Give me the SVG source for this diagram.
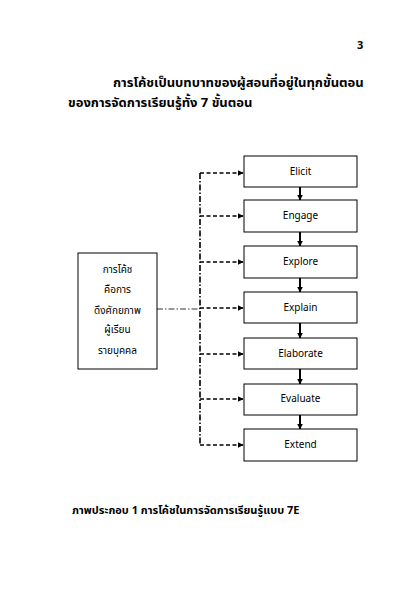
<svg xmlns="http://www.w3.org/2000/svg" width="420" height="595" viewBox="0 0 420 595">
<defs>
<style>
.t{font-family:"Noto Sans Thai","Loma","Garuda","Norasi","DejaVu Sans",sans-serif;fill:#000}
.h{font-size:13px;font-weight:bold}
.b{font-size:10px}
.box{fill:#fff;stroke:#000;stroke-width:1}
.sol{stroke:#000;stroke-width:2;fill:none}
.dash{stroke:#000;stroke-width:1.6;stroke-dasharray:4 2.5;fill:none}
.dd{stroke:#000;stroke-width:1.6;stroke-dasharray:6 2 1.5 2;fill:none}
.dd1{stroke:#000;stroke-width:0.8;stroke-dasharray:6 2 1.5 2;fill:none}
</style>
<marker id="ah" viewBox="0 0 10 10" refX="9" refY="5" markerWidth="3.5" markerHeight="3.5" orient="auto" markerUnits="strokeWidth"><path d="M0,0 L10,5 L0,10 z" fill="#000"/></marker>
<marker id="av" viewBox="0 0 10 10" refX="9" refY="5" markerWidth="3" markerHeight="3" orient="auto" markerUnits="strokeWidth"><path d="M0,0 L10,5 L0,10 z" fill="#000"/></marker>
</defs>
<rect width="420" height="595" fill="#fff"/>
<text class="t h" x="357" y="49" style="font-size:11px">3</text>
<text class="t h" x="113" y="87">การโค้ชเป็นบทบาทของผู้สอนที่อยู่ในทุกขั้นตอน</text>
<text class="t h" x="68" y="107">ของการจัดการเรียนรู้ทั้ง 7 ขั้นตอน</text>
<g id="connectors">
<line class="dd1" x1="157" y1="309" x2="200" y2="309"/>
<line class="dd" x1="200" y1="173" x2="200" y2="445"/>
<line class="dash" x1="200" y1="173" x2="243" y2="173" marker-end="url(#ah)"/>
<line class="dash" x1="200" y1="216" x2="243" y2="216" marker-end="url(#ah)"/>
<line class="dash" x1="200" y1="262" x2="243" y2="262" marker-end="url(#ah)"/>
<line class="dash" x1="200" y1="308" x2="243" y2="308" marker-end="url(#ah)"/>
<line class="dash" x1="200" y1="354" x2="243" y2="354" marker-end="url(#ah)"/>
<line class="dash" x1="200" y1="399" x2="243" y2="399" marker-end="url(#ah)"/>
<line class="dash" x1="200" y1="445" x2="243" y2="445" marker-end="url(#ah)"/>
<line class="sol" x1="300" y1="187" x2="300" y2="200" marker-end="url(#av)"/>
<line class="sol" x1="300" y1="232" x2="300" y2="246" marker-end="url(#av)"/>
<line class="sol" x1="300" y1="278" x2="300" y2="292" marker-end="url(#av)"/>
<line class="sol" x1="300" y1="323" x2="300" y2="338" marker-end="url(#av)"/>
<line class="sol" x1="300" y1="369" x2="300" y2="384" marker-end="url(#av)"/>
<line class="sol" x1="300" y1="415" x2="300" y2="429" marker-end="url(#av)"/>
</g>
<g id="coach">
<rect class="box" x="78" y="253" width="79" height="116"/>
<text class="t b" x="117.5" y="273" text-anchor="middle">การโค้ช</text>
<text class="t b" x="117.5" y="293" text-anchor="middle">คือการ</text>
<text class="t b" x="117.5" y="314" text-anchor="middle">ดึงศักยภาพ</text>
<text class="t b" x="117.5" y="333" text-anchor="middle">ผู้เรียน</text>
<text class="t b" x="117.5" y="354" text-anchor="middle">รายบุคคล</text>
</g>
<g id="elicit"><rect class="box" x="244" y="156" width="113" height="31"/><text class="t b" x="300.5" y="175" text-anchor="middle">Elicit</text></g>
<g id="engage"><rect class="box" x="244" y="200" width="113" height="32"/><text class="t b" x="300.5" y="219" text-anchor="middle">Engage</text></g>
<g id="explore"><rect class="box" x="244" y="246" width="113" height="32"/><text class="t b" x="300.5" y="265" text-anchor="middle">Explore</text></g>
<g id="explain"><rect class="box" x="244" y="292" width="113" height="31"/><text class="t b" x="300.5" y="311" text-anchor="middle">Explain</text></g>
<g id="elaborate"><rect class="box" x="244" y="338" width="113" height="31"/><text class="t b" x="300.5" y="357" text-anchor="middle">Elaborate</text></g>
<g id="evaluate"><rect class="box" x="244" y="384" width="113" height="31"/><text class="t b" x="300.5" y="402" text-anchor="middle">Evaluate</text></g>
<g id="extend"><rect class="box" x="244" y="429" width="113" height="32"/><text class="t b" x="300.5" y="448" text-anchor="middle">Extend</text></g>
<text class="t h" x="72" y="514" style="font-size:11px">ภาพประกอบ 1 การโค้ชในการจัดการเรียนรู้แบบ 7E</text>
</svg>
